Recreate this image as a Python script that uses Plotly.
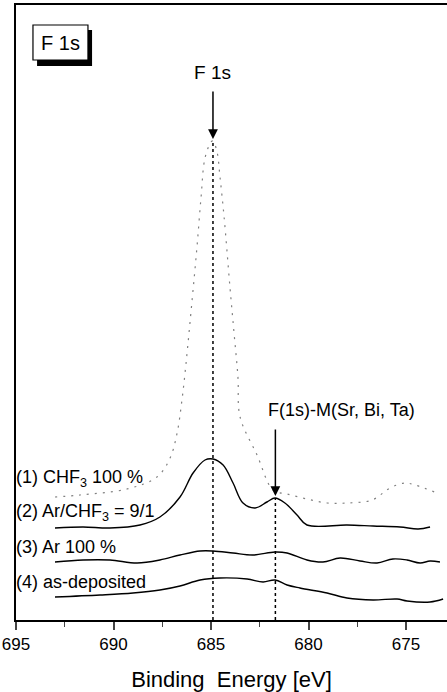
import plotly.graph_objects as go

# Binding energy (eV) and intensity (arbitrary units)
e1 = [693.0, 691.72, 689.31, 687.77, 687.10, 686.74, 686.49, 686.28, 685.97, 685.72, 685.51,
      685.31, 685.00, 684.90, 684.69, 684.54, 684.33, 684.03, 683.82, 683.62, 683.51, 682.64,
      681.82, 681.10, 680.08, 679.05, 678.03, 676.74, 675.82, 675.05, 674.54, 673.41]
i1 = [123, 125, 131, 143, 162, 187, 220, 257, 320, 373, 423,
      462, 478, 479, 468, 443, 403, 333, 287, 243, 203, 165,
      130, 126, 121, 117, 117, 120, 132, 137, 135, 127]

e2 = [693.0, 691.56, 690.18, 688.64, 687.62, 686.59, 685.92, 685.31, 684.90, 684.38, 683.87,
      683.36, 682.74, 682.13, 681.72, 681.21, 680.59, 680.08, 678.03, 676.69, 675.31, 674.38, 673.77]
i2 = [92, 93, 92, 95, 103, 123, 147, 160, 161, 155, 137,
      117, 112, 118, 122, 117, 105, 95, 95, 94, 93, 91, 93]

e3 = [693.0, 691.56, 690.18, 688.79, 687.62, 686.59, 685.56, 684.90, 683.87, 682.85, 681.72,
      681.10, 680.08, 679.26, 678.38, 677.36, 676.49, 675.67, 674.95, 674.28, 673.77, 673.26]
i3 = [58, 60, 60, 57, 60, 65, 69, 69, 67, 65, 68,
      67, 60, 58, 62, 59, 57, 61, 60, 57, 59, 58]

e4 = [693.0, 690.69, 689.0, 687.62, 686.59, 685.56, 684.54, 683.15, 682.33, 681.72, 681.10,
      680.44, 679.05, 678.03, 676.69, 675.46, 674.95, 673.77, 673.10]
i4 = [23, 25, 27, 30, 34, 40, 42, 41, 38, 40, 35,
      32, 27, 22, 20, 21, 19, 18, 21]

series_labels = ["(1) CHF<sub>3</sub> 100 %", "(2) Ar/CHF<sub>3</sub> = 9/1",
                 "(3) Ar 100 %", "(4) as-deposited"]
label_levels = [142, 108, 73, 38]

peak_main = 684.9
peak_metal = 681.7
tick_vals = [695, 690, 685, 680, 675]

FONT = "Arial, Liberation Sans, sans-serif"

fig = go.Figure()
fig.add_trace(go.Scatter(x=e1, y=i1, mode="lines", line=dict(color="#808080", width=1.2, dash="2px,6px"),
                         line_shape="spline", showlegend=False))
for e, i in [(e2, i2), (e3, i3), (e4, i4)]:
    fig.add_trace(go.Scatter(x=e, y=i, mode="lines", line=dict(color="black", width=1.4),
                             line_shape="spline", showlegend=False))

# dotted vertical reference lines
fig.add_shape(type="line", x0=peak_main, x1=peak_main, y0=0, y1=478, xref="x", yref="y",
              line=dict(color="black", width=1.5, dash="dot"))
fig.add_shape(type="line", x0=peak_metal, x1=peak_metal, y0=0, y1=122, xref="x", yref="y",
              line=dict(color="black", width=1.5, dash="dot"))

# arrows
fig.add_annotation(x=peak_main, y=481, ax=peak_main, ay=530, xref="x", yref="y", axref="x", ayref="y",
                   text="", showarrow=True, arrowhead=2, arrowsize=1.3, arrowwidth=1.5, arrowcolor="black")
fig.add_annotation(x=peak_metal, y=124, ax=peak_metal, ay=192, xref="x", yref="y", axref="x", ayref="y",
                   text="", showarrow=True, arrowhead=2, arrowsize=1.3, arrowwidth=1.5, arrowcolor="black")
fig.add_annotation(x=peak_main, y=548, xref="x", yref="y", text="F 1s", showarrow=False,
                   font=dict(family=FONT, size=19, color="black"))
fig.add_annotation(x=678.33, y=210, xref="x", yref="y", text="F(1s)-M(Sr, Bi, Ta)", showarrow=False,
                   font=dict(family=FONT, size=18, color="black"))

for lab, lev in zip(series_labels, label_levels):
    fig.add_annotation(x=0.0, y=lev, xref="paper", yref="y", text=lab, showarrow=False,
                       xanchor="left", xshift=-2, font=dict(family=FONT, size=18, color="black"))

# boxed "F 1s" label with shadow
fig.add_shape(type="rect", xref="x", yref="y", x0=693.92, x1=691.10, y0=554, y1=590,
              fillcolor="black", line=dict(color="black", width=0))
fig.add_shape(type="rect", xref="x", yref="y", x0=694.13, x1=691.31, y0=560, y1=595,
              fillcolor="white", line=dict(color="black", width=1.2))
fig.add_annotation(x=692.72, y=577.5, xref="x", yref="y", text="F 1s", showarrow=False,
                   font=dict(family=FONT, size=20, color="black"))

fig.update_layout(
    width=447, height=692, margin=dict(l=16, r=0, t=5, b=72),
    paper_bgcolor="white", plot_bgcolor="white",
    font=dict(family=FONT, color="black"),
    xaxis=dict(range=[695, 672.9], tickvals=tick_vals, ticks="outside", ticklen=8, tickwidth=1.5,
               minor=dict(dtick=2.5, ticks="outside", ticklen=5, tickwidth=1.2, tick0=0),
               showline=True, linecolor="black", linewidth=2, mirror=True, showgrid=False, zeroline=False,
               tickfont=dict(family=FONT, size=17),
               title=dict(text="Binding  Energy [eV]", font=dict(family=FONT, size=22), standoff=18)),
    yaxis=dict(range=[0, 615], showticklabels=False, ticks="", showline=True, linecolor="black",
               linewidth=2, showgrid=False, zeroline=False),
)

fig.write_html("out.html")
